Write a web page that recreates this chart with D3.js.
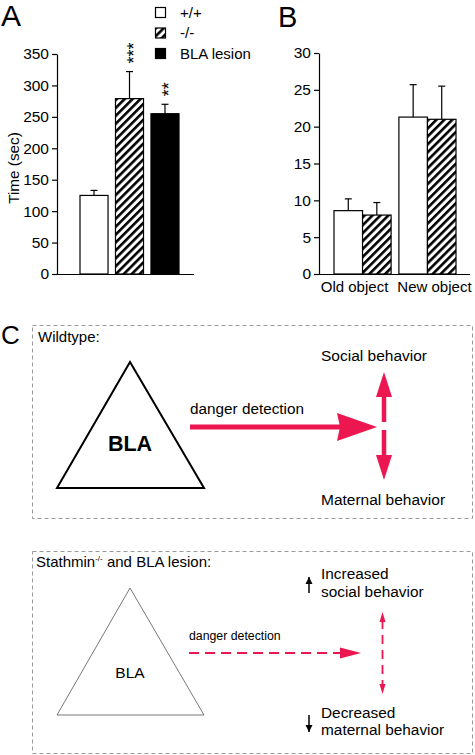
<!DOCTYPE html>
<html><head><meta charset="utf-8">
<script src="https://cdn.jsdelivr.net/npm/d3@7"></script>
<style>body{margin:0;background:#fff;}svg{display:block;font-family:"Liberation Sans",Arial,sans-serif;}</style>
</head><body>
<script>
// Panel A data
const groupsA = ["+/+", "-/-", "BLA lesion"];
const valuesA = [125, 279, 255];
const errorsA = [8, 43, 15];
const starsA = ["", "***", "**"];
const ticksA = [0, 50, 100, 150, 200, 250, 300, 350];
// Panel B data
const categoriesB = ["Old object", "New object"];
const wildB = [8.6, 21.3];
const wildErrB = [1.6, 4.4];
const koB = [8.0, 21.0];
const koErrB = [1.7, 4.5];
const ticksB = [0, 5, 10, 15, 20, 25, 30];

const RED = "#ec1650";
const W = 475, H = 755;
const svg = d3.select("body").append("svg").attr("width", W).attr("height", H);
const defs = svg.append("defs");
const pat = defs.append("pattern").attr("id", "hatch").attr("patternUnits", "userSpaceOnUse")
  .attr("width", 5.6).attr("height", 5.6).attr("patternTransform", "rotate(45)");
pat.append("rect").attr("width", 5.6).attr("height", 5.6).attr("fill", "#fff");
pat.append("rect").attr("x", 0).attr("width", 2.6).attr("height", 5.6).attr("fill", "#000");

const axisStyle = g => {
  g.select(".domain").attr("stroke-width", 1.2);
  g.selectAll("text").attr("font-size", 15.5).attr("fill", "#000").attr("font-family", "Liberation Sans, Arial");
  g.selectAll("line").attr("stroke-width", 1.2);
};

// ---------- Panel A ----------
const yA = d3.scaleLinear().domain([0, 350]).range([274, 54]);
const xA = d3.scaleBand().domain(groupsA).range([80, 179]).paddingInner(0.21).paddingOuter(0);
const gA = svg.append("g");
gA.append("g").attr("transform", "translate(57,0)")
  .call(d3.axisLeft(yA).tickValues(ticksA).tickSize(5).tickSizeOuter(0)).call(axisStyle);
gA.append("line").attr("x1", 57).attr("x2", 194).attr("y1", 274.5).attr("y2", 274.5).attr("stroke", "#000").attr("stroke-width", 1.2);
const fillsA = ["#fff", "url(#hatch)", "#000"];
groupsA.forEach((g, i) => {
  const x = xA(g), w = xA.bandwidth(), cx = x + w / 2;
  const top = yA(valuesA[i] + errorsA[i]);
  gA.append("line").attr("x1", cx).attr("x2", cx).attr("y1", yA(valuesA[i])).attr("y2", top).attr("stroke", "#000").attr("stroke-width", 1.2);
  gA.append("line").attr("x1", cx - 3.5).attr("x2", cx + 3.5).attr("y1", top).attr("y2", top).attr("stroke", "#000").attr("stroke-width", 1.2);
  gA.append("rect").attr("x", x).attr("y", yA(valuesA[i])).attr("width", w).attr("height", yA(0) - yA(valuesA[i]))
    .attr("fill", fillsA[i]).attr("stroke", "#000").attr("stroke-width", 1.2);
  if (starsA[i]) {
    gA.append("text").attr("transform", `translate(${cx + 10},${top - 8}) rotate(-90)`)
      .attr("font-size", 18).attr("text-anchor", "start").text(starsA[i]);
  }
});
gA.append("text").attr("transform", "translate(19,168) rotate(-90)").attr("text-anchor", "middle").attr("font-size", 15.3).text("Time (sec)");
svg.append("text").attr("x", 1).attr("y", 26).attr("font-size", 30).text("A");
// legend
groupsA.forEach((g, i) => {
  svg.append("rect").attr("x", 155.5).attr("y", 7.5 + i * 20.5).attr("width", 10).attr("height", 10)
    .attr("fill", fillsA[i]).attr("stroke", "#000").attr("stroke-width", 1.2);
  svg.append("text").attr("x", 180).attr("y", 17.5 + i * 20.5).attr("font-size", 15).text(g);
});

// ---------- Panel B ----------
const yB = d3.scaleLinear().domain([0, 30]).range([274, 53]);
const xB = d3.scaleBand().domain(categoriesB).range([334, 456]).paddingInner(0.12).paddingOuter(0);
const gB = svg.append("g");
gB.append("g").attr("transform", "translate(319,0)")
  .call(d3.axisLeft(yB).tickValues(ticksB).tickSize(5).tickSizeOuter(0)).call(axisStyle);
gB.append("line").attr("x1", 319).attr("x2", 470).attr("y1", 274.5).attr("y2", 274.5).attr("stroke", "#000").attr("stroke-width", 1.2);
const labelShift = [-8, 7];
categoriesB.forEach((c, i) => {
  const x0 = xB(c), bw = xB.bandwidth() / 2;
  [[wildB[i], wildErrB[i], "#fff"], [koB[i], koErrB[i], "url(#hatch)"]].forEach(([v, e, f], j) => {
    const x = x0 + j * bw, cx = x + bw / 2;
    gB.append("line").attr("x1", cx).attr("x2", cx).attr("y1", yB(v)).attr("y2", yB(v + e)).attr("stroke", "#000").attr("stroke-width", 1.2);
    gB.append("line").attr("x1", cx - 3.5).attr("x2", cx + 3.5).attr("y1", yB(v + e)).attr("y2", yB(v + e)).attr("stroke", "#000").attr("stroke-width", 1.2);
    gB.append("rect").attr("x", x).attr("y", yB(v)).attr("width", bw).attr("height", yB(0) - yB(v))
      .attr("fill", f).attr("stroke", "#000").attr("stroke-width", 1.2);
  });
  gB.append("text").attr("x", x0 + xB.bandwidth() / 2 + labelShift[i]).attr("y", 292).attr("text-anchor", "middle").attr("font-size", 15).text(c);
});
svg.append("text").attr("x", 278).attr("y", 27).attr("font-size", 29).text("B");

// ---------- Panel C ----------
svg.append("text").attr("x", 1).attr("y", 344).attr("font-size", 26).text("C");
const boxStyle = s => s.attr("fill", "none").attr("stroke", "#999").attr("stroke-width", 1).attr("stroke-dasharray", "4,3");
svg.append("rect").attr("x", 32.5).attr("y", 325.5).attr("width", 440).attr("height", 193).call(boxStyle);
svg.append("rect").attr("x", 32.5).attr("y", 551.5).attr("width", 440).attr("height", 202).call(boxStyle);
svg.append("text").attr("x", 38).attr("y", 342).attr("font-size", 15).text("Wildtype:");
svg.append("path").attr("d", "M130,362 L57,488 L204,488 Z").attr("fill", "none").attr("stroke", "#000").attr("stroke-width", 2).attr("stroke-linejoin", "miter");
svg.append("text").attr("x", 130).attr("y", 451).attr("text-anchor", "middle").attr("font-size", 21.5).attr("font-weight", "bold").text("BLA");
svg.append("text").attr("x", 190).attr("y", 414).attr("font-size", 15.3).text("danger detection");
svg.append("line").attr("x1", 190).attr("x2", 340).attr("y1", 427).attr("y2", 427).attr("stroke", RED).attr("stroke-width", 5);
svg.append("path").attr("d", "M377,427 L337,413 L340,427 L337,441 Z").attr("fill", RED);
// vertical wildtype arrows
svg.append("line").attr("x1", 384).attr("x2", 384).attr("y1", 422).attr("y2", 395).attr("stroke", RED).attr("stroke-width", 4.5);
svg.append("line").attr("x1", 384).attr("x2", 384).attr("y1", 430).attr("y2", 457).attr("stroke", RED).attr("stroke-width", 4.5);
[[372, 1], [480, -1]].forEach(([tip, d]) => {
  svg.append("path").attr("d", `M384,${tip} L376,${tip + d * 25} L392,${tip + d * 25} Z`).attr("fill", RED);
});
svg.append("text").attr("x", 321).attr("y", 361).attr("font-size", 15.5).text("Social behavior");
svg.append("text").attr("x", 321).attr("y", 505).attr("font-size", 15.5).text("Maternal behavior");

const t2 = svg.append("text").attr("x", 36).attr("y", 567).attr("font-size", 15);
t2.append("tspan").text("Stathmin");
t2.append("tspan").attr("font-size", 8).attr("dy", -6).text("-/-");
t2.append("tspan").attr("dy", 6).text(" and BLA lesion:");
svg.append("path").attr("d", "M130,588 L57,715 L204,715 Z").attr("fill", "none").attr("stroke", "#555").attr("stroke-width", 0.8);
svg.append("text").attr("x", 130).attr("y", 678).attr("text-anchor", "middle").attr("font-size", 15.5).text("BLA");
svg.append("text").attr("x", 189).attr("y", 640).attr("font-size", 12.3).text("danger detection");
svg.append("line").attr("x1", 189).attr("x2", 342).attr("y1", 653).attr("y2", 653).attr("stroke", RED).attr("stroke-width", 2).attr("stroke-dasharray", "10,6");
svg.append("path").attr("d", "M361,653 L340,647.5 L340,658.5 Z").attr("fill", RED);
svg.append("line").attr("x1", 382.5).attr("x2", 382.5).attr("y1", 620).attr("y2", 686).attr("stroke", RED).attr("stroke-width", 1.8).attr("stroke-dasharray", "9,6");
[[612, 1], [694, -1]].forEach(([tip, d]) => {
  svg.append("path").attr("d", `M382.5,${tip} L379.5,${tip + d * 10} L385.5,${tip + d * 10} Z`).attr("fill", RED);
});
// black arrows
[[593, 577], [715, 732]].forEach(([a, b]) => {
  svg.append("line").attr("x1", 309).attr("x2", 309).attr("y1", a).attr("y2", b).attr("stroke", "#000").attr("stroke-width", 1.5);
  const d = b < a ? 1 : -1;
  svg.append("path").attr("d", `M309,${b} L305.5,${b + d * 7} L312.5,${b + d * 7} Z`).attr("fill", "#000");
});
svg.append("text").attr("x", 321).attr("y", 579).attr("font-size", 15.4).text("Increased");
svg.append("text").attr("x", 321).attr("y", 597).attr("font-size", 15.4).text("social behavior");
svg.append("text").attr("x", 321).attr("y", 718).attr("font-size", 15.4).text("Decreased");
svg.append("text").attr("x", 321).attr("y", 735).attr("font-size", 15.4).text("maternal behavior");
</script>
</body></html>
